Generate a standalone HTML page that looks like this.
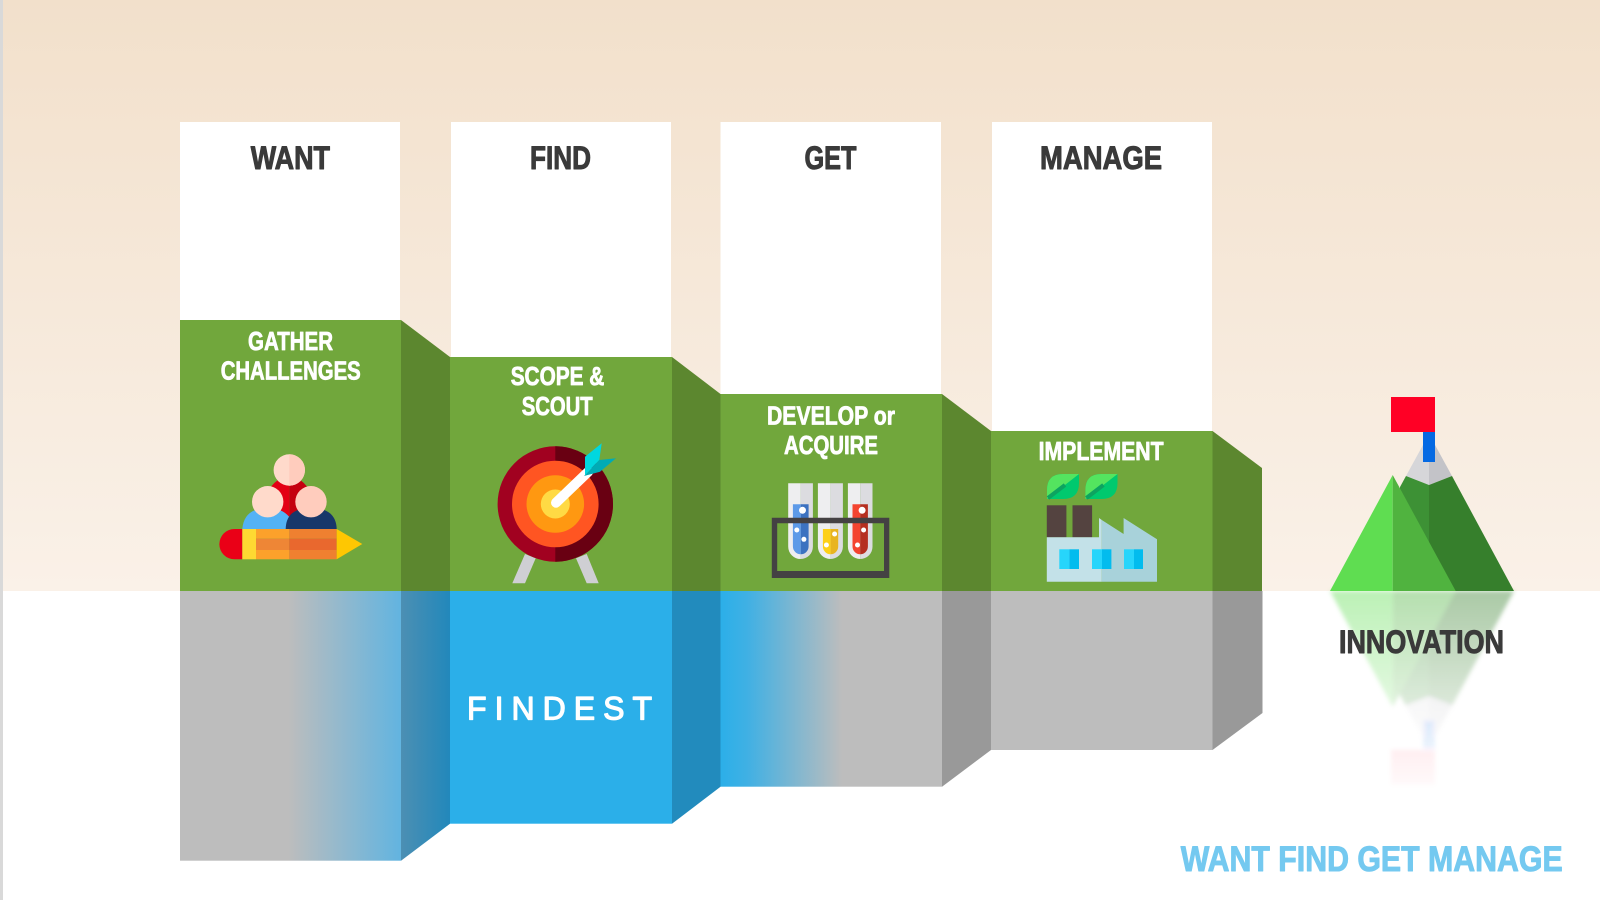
<!DOCTYPE html>
<html>
<head>
<meta charset="utf-8">
<style>
html,body{margin:0;padding:0;background:#fff;width:1600px;height:900px;overflow:hidden}
svg{display:block}
text{font-family:"Liberation Sans",sans-serif;font-weight:700;stroke-linejoin:round}
.d{fill:#3a3a3a;stroke:#3a3a3a;stroke-width:1;font-size:32px}
.w{fill:#fff;stroke:#fff;stroke-width:.8;font-size:26px}
</style>
</head>
<body>
<svg width="1600" height="900" viewBox="0 0 1600 900" xmlns="http://www.w3.org/2000/svg">
<defs>
<linearGradient id="bg" x1="0" y1="0" x2="0" y2="1"><stop offset="0" stop-color="#f2e0cb"/><stop offset="1" stop-color="#faf1e8"/></linearGradient>
<linearGradient id="g1" gradientUnits="userSpaceOnUse" x1="180" y1="0" x2="401" y2="0"><stop offset=".49" stop-color="#bdbdbd"/><stop offset="1" stop-color="#62b4e0"/></linearGradient>
<linearGradient id="s1" gradientUnits="userSpaceOnUse" x1="401" y1="0" x2="450" y2="0"><stop offset="0" stop-color="#4c8fb3"/><stop offset="1" stop-color="#2288bb"/></linearGradient>
<linearGradient id="g3" gradientUnits="userSpaceOnUse" x1="720" y1="0" x2="942" y2="0"><stop offset="0" stop-color="#2bafe9"/><stop offset=".12" stop-color="#3fb0e4"/><stop offset=".55" stop-color="#bdbdbd"/></linearGradient>
<linearGradient id="fade" gradientUnits="userSpaceOnUse" x1="0" y1="591" x2="0" y2="795"><stop offset="0" stop-color="#fff" stop-opacity=".42"/><stop offset=".5" stop-color="#fff" stop-opacity=".2"/><stop offset=".8" stop-color="#fff" stop-opacity=".06"/><stop offset="1" stop-color="#fff" stop-opacity=".01"/></linearGradient>
<mask id="m" maskUnits="userSpaceOnUse" x="1300" y="585" width="240" height="215"><rect x="1300" y="585" width="240" height="215" fill="url(#fade)"/></mask>
<filter id="b" x="-10%" y="-10%" width="120%" height="120%"><feGaussianBlur stdDeviation="2"/></filter>
<g id="mt">
<polygon points="1429,434 1406,476 1429,485" fill="#d6d6d9"/>
<polygon points="1429,434 1452,476 1429,485" fill="#c3c3c8"/>
<polygon points="1406,476 1429,485 1429,591 1400,591 1400,487" fill="#3d9135"/>
<polygon points="1429,485 1452,476 1514,591 1429,591" fill="#367f2c"/>
<polygon points="1392.7,475 1392.7,591 1330,591" fill="#5fdd51"/>
<polygon points="1392.7,475 1455.7,591 1392.7,591" fill="#50b33f"/>
<rect x="1423" y="432" width="12" height="30" fill="#0469e3"/>
<rect x="1391" y="397" width="44" height="35" fill="#ff0025"/>
</g>
</defs>

<rect width="1600" height="591" fill="url(#bg)"/>
<rect x="0" y="0" width="3" height="900" fill="#d9d9d9"/>

<!-- white columns -->
<rect x="180" y="122" width="220" height="200" fill="#fff"/>
<rect x="451" y="122" width="220" height="237" fill="#fff"/>
<rect x="720.5" y="122" width="220.5" height="274" fill="#fff"/>
<rect x="992" y="122" width="220" height="311" fill="#fff"/>

<!-- green -->
<rect x="180" y="320" width="221" height="271" fill="#71a73c"/>
<polygon points="401,320 450,357 450,591 401,591" fill="#5c872f"/>
<rect x="450" y="357" width="222" height="234" fill="#71a73c"/>
<polygon points="672,357 720.5,394 720.5,591 672,591" fill="#5c872f"/>
<rect x="720.5" y="394" width="221.5" height="197" fill="#71a73c"/>
<polygon points="942,394 991,431 991,591 942,591" fill="#5c872f"/>
<rect x="991" y="431" width="221.5" height="160" fill="#71a73c"/>
<polygon points="1212.5,431 1262,468 1262,591 1212.5,591" fill="#5c872f"/>

<!-- lower blocks -->
<rect x="180" y="591" width="221" height="269.7" fill="url(#g1)"/>
<polygon points="401,591 450,591 450,823.7 401,860.7" fill="url(#s1)"/>
<rect x="450" y="591" width="222" height="232.7" fill="#2bafe9"/>
<polygon points="672,591 720.5,591 720.5,786.7 672,823.7" fill="#228bbd"/>
<rect x="720.5" y="591" width="221.5" height="195.7" fill="url(#g3)"/>
<polygon points="942,591 991,591 991,750 942,786.7" fill="#999"/>
<rect x="991" y="591" width="221.5" height="159" fill="#bdbdbd"/>
<polygon points="1212.5,591 1262.5,591 1262.5,713 1212.5,750" fill="#999"/>

<!-- people + pencil -->
<path d="M264,500 Q272,478 289.3,476 L289.3,518 Z" fill="#e30014"/>
<path d="M314,500 Q306,478 289.3,476 L289.3,518 Z" fill="#c4000f"/>
<path d="M242.3,529 Q244,508 267.7,508 Q282,508 289.3,517 L289.3,529 Z" fill="#53b2f5"/>
<path d="M285.7,529 Q286,508 311,508 Q336,508 336.7,529 Z" fill="#18376a"/>
<circle cx="289.3" cy="470" r="15.7" fill="#ffdacb"/>
<path d="M289.3,454.3 a15.7,15.7 0 0 1 0,31.4 Z" fill="#ffccbd"/>
<circle cx="267.7" cy="501.7" r="15.7" fill="#ffdacb"/>
<circle cx="311" cy="501.7" r="15.7" fill="#ffccbd"/>
<path d="M242.3,529 L234.5,529 a15.15,15.15 0 0 0 0,30.3 L242.3,559.3 Z" fill="#ea0017"/>
<rect x="242.3" y="529" width="13.7" height="30.3" fill="#fed932"/>
<rect x="256" y="529" width="33.3" height="9.7" fill="#fca12b"/>
<rect x="256" y="538.7" width="33.3" height="11.3" fill="#ee8636"/>
<rect x="256" y="550" width="33.3" height="9.3" fill="#fca12b"/>
<rect x="289.3" y="529" width="47.4" height="9.7" fill="#ef8030"/>
<rect x="289.3" y="538.7" width="47.4" height="11.3" fill="#e9682e"/>
<rect x="289.3" y="550" width="47.4" height="9.3" fill="#ef8030"/>
<polygon points="336.7,529 362.3,544 336.7,559.3" fill="#fec702"/>

<!-- target -->
<polygon points="525,554 535.7,558.3 525,583.3 512.3,583.3" fill="#cfcfd3"/>
<polygon points="576,558.3 586.7,554 598.7,583.3 586.7,583.3" fill="#cfcfd3"/>
<circle cx="555.3" cy="504" r="57.7" fill="#a10120"/>
<path d="M555.3,446.3 a57.7,57.7 0 0 1 0,115.4 Z" fill="#690012"/>
<circle cx="555.3" cy="504" r="43.3" fill="#ff5522"/>
<circle cx="555.3" cy="504" r="28.8" fill="#ff9811"/>
<circle cx="555.3" cy="504" r="14.5" fill="#ffda44"/>
<line x1="556" y1="502.7" x2="588.3" y2="471.7" stroke="#fff" stroke-width="10" stroke-linecap="round"/>
<polygon points="585,456.7 601.7,443.3 599.3,460 585,475" fill="#00d7df"/>
<polygon points="599.3,460 616,458.3 600,471.7 584,476" fill="#00abb5"/>

<!-- test tubes -->
<path d="M788.2,483.3 h12.4 v75.7 a12.35,12.35 0 0 1 -12.4,-12.4 Z" fill="#eeeef0"/>
<path d="M800.6,483.3 h12.3 v63.3 a12.35,12.35 0 0 1 -12.3,12.4 Z" fill="#dcdce0"/>
<path d="M817.9,483.3 h12.5 v75.7 a12.5,12.5 0 0 1 -12.5,-12.4 Z" fill="#eeeef0"/>
<path d="M830.4,483.3 h12.5 v63.3 a12.5,12.5 0 0 1 -12.5,12.4 Z" fill="#dcdce0"/>
<path d="M847.9,483.3 h12.3 v75.7 a12.3,12.3 0 0 1 -12.3,-12.4 Z" fill="#eeeef0"/>
<path d="M860.2,483.3 h12.3 v63.3 a12.3,12.3 0 0 1 -12.3,12.4 Z" fill="#dcdce0"/>
<path d="M792.9,504.3 h7.9 v50 a7.9,7.9 0 0 1 -7.9,-7.9 Z" fill="#5d9ae8"/>
<path d="M800.8,504.3 h7.8 v42.1 a7.8,7.9 0 0 1 -7.8,7.9 Z" fill="#3c72c0"/>
<path d="M822.9,529 h7.7 v25.3 a7.7,7.9 0 0 1 -7.7,-7.9 Z" fill="#fdd017"/>
<path d="M830.6,529 h7.6 v17.4 a7.6,7.9 0 0 1 -7.6,7.9 Z" fill="#e8b420"/>
<path d="M852.5,504.3 h7.7 v50 a7.7,7.9 0 0 1 -7.7,-7.9 Z" fill="#f44430"/>
<path d="M860.2,504.3 h7.7 v42.1 a7.7,7.9 0 0 1 -7.7,7.9 Z" fill="#b52f20"/>
<g fill="#fff">
<circle cx="802.5" cy="510.3" r="3.5"/><circle cx="796.8" cy="530" r="2.5"/><circle cx="803.9" cy="539.3" r="2.5"/>
<circle cx="834.6" cy="534" r="2.5"/><circle cx="826.4" cy="545" r="2.5"/>
<circle cx="862.1" cy="510.3" r="3.5"/><circle cx="863.6" cy="530" r="2.5"/><circle cx="857.5" cy="545" r="2.5"/>
</g>
<path fill-rule="evenodd" d="M771.8,517.7 H889.3 V578 H771.8 Z M777.2,523.3 V571 H884 V523.3 Z" fill="#444143"/>

<!-- factory -->
<path d="M1047,499 V490 Q1047,474 1063,474 H1079 V483 Q1079,499 1063,499 Z" fill="#00c96e"/>
<path d="M1047,499 V490 Q1047,474 1063,474 H1079 Z" fill="#54e45f"/>
<line x1="1048" y1="498" x2="1065" y2="485" stroke="#0da360" stroke-width="4"/>
<path d="M1085.4,499 V490 Q1085.4,474 1101.4,474 H1117.5 V483 Q1117.5,499 1101.4,499 Z" fill="#00c96e"/>
<path d="M1085.4,499 V490 Q1085.4,474 1101.4,474 H1117.5 Z" fill="#54e45f"/>
<line x1="1086.4" y1="498" x2="1103.4" y2="485" stroke="#0da360" stroke-width="4"/>
<rect x="1046.8" y="505.3" width="19.6" height="32" fill="#544340"/>
<rect x="1072.5" y="505.3" width="19.6" height="32" fill="#544340"/>
<polygon points="1046.8,537.3 1099,537.3 1099,518 1101.8,520 1101.8,581.7 1046.8,581.7" fill="#c3e1e8"/>
<polygon points="1101.8,520 1123.6,534 1123.6,518 1157,539.3 1157,581.7 1101.8,581.7" fill="#a8d2da"/>
<g>
<rect x="1059.3" y="549.3" width="10" height="19.7" fill="#27d5fb"/><rect x="1069.3" y="549.3" width="9.7" height="19.7" fill="#02bcee"/>
<rect x="1092" y="549.3" width="10" height="19.7" fill="#27d5fb"/><rect x="1102" y="549.3" width="9.4" height="19.7" fill="#02bcee"/>
<rect x="1124" y="549.3" width="10" height="19.7" fill="#27d5fb"/><rect x="1134" y="549.3" width="9" height="19.7" fill="#02bcee"/>
</g>

<!-- mountain + reflection -->
<g mask="url(#m)"><g filter="url(#b)"><use href="#mt" transform="matrix(1 0 0 -1 0 1182)"/></g></g>
<use href="#mt"/>

<!-- labels -->
<text class="d" x="250.7" y="169" textLength="79.3" lengthAdjust="spacingAndGlyphs">WANT</text>
<text class="d" x="530" y="169" textLength="61" lengthAdjust="spacingAndGlyphs">FIND</text>
<text class="d" x="804.5" y="169" textLength="52" lengthAdjust="spacingAndGlyphs">GET</text>
<text class="d" x="1040" y="169" textLength="122" lengthAdjust="spacingAndGlyphs">MANAGE</text>

<text class="w" x="248" y="350" textLength="85" lengthAdjust="spacingAndGlyphs">GATHER</text>
<text class="w" x="220.7" y="379.3" textLength="140" lengthAdjust="spacingAndGlyphs">CHALLENGES</text>
<text class="w" x="510.7" y="385" textLength="93.6" lengthAdjust="spacingAndGlyphs">SCOPE &amp;</text>
<text class="w" x="521.7" y="415" textLength="71" lengthAdjust="spacingAndGlyphs">SCOUT</text>
<text class="w" x="767" y="424.3" textLength="128" lengthAdjust="spacingAndGlyphs">DEVELOP or</text>
<text class="w" x="784" y="454" textLength="94" lengthAdjust="spacingAndGlyphs">ACQUIRE</text>
<text class="w" x="1038.6" y="460" textLength="125" lengthAdjust="spacingAndGlyphs">IMPLEMENT</text>

<text x="467" y="719.3" textLength="185" lengthAdjust="spacing" style="font-size:32px;font-weight:400" fill="#fff" stroke="#fff" stroke-width="1.2">FINDEST</text>

<text class="d" x="1339" y="653" textLength="165" lengthAdjust="spacingAndGlyphs">INNOVATION</text>
<text x="1180.7" y="871" textLength="382" lengthAdjust="spacingAndGlyphs" style="font-size:35px" fill="#74c9f0" stroke="#74c9f0" stroke-width="1">WANT FIND GET MANAGE</text>
</svg>
</body>
</html>
